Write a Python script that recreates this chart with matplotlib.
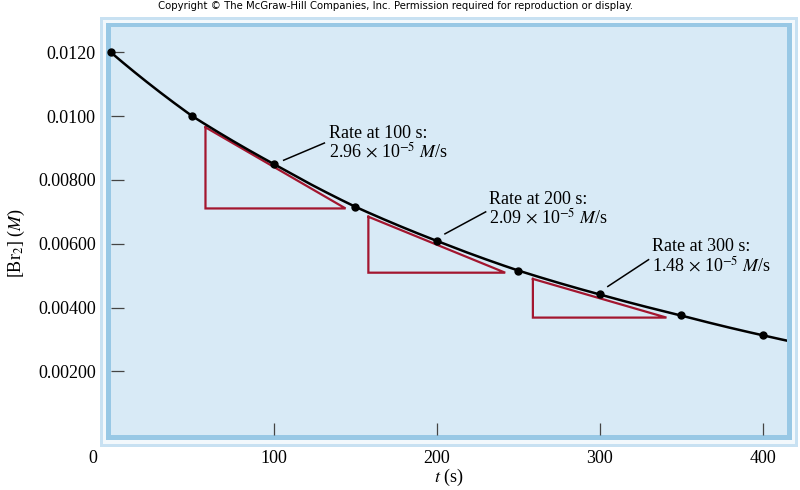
import numpy as np
import matplotlib
matplotlib.use("Agg")
import matplotlib.pyplot as plt
from matplotlib.patches import Rectangle

plt.rcParams['font.family'] = ['Liberation Serif', 'DejaVu Serif']
plt.rcParams['mathtext.fontset'] = 'stix'

# data
t_s = [0, 50, 100, 150, 200, 250, 300, 350, 400]
br2 = [0.0120, 0.0100, 0.0085, 0.00716, 0.00609, 0.00516, 0.00441, 0.00375, 0.00313]
curve_end_t = 415
curve_end_c = 0.00296

# tangent triangles: where the tangent touches, its slope, and its x extent
tan_t = [100, 200, 300]
rates = [2.96e-5, 2.09e-5, 1.48e-5]
tri_t0 = [58, 158, 259]
tri_t1 = [144, 242, 341]
tri_drop = [0.00009, 0.00012, 0.00012]   # triangles sit a hair under the curve

labels = ["Rate at 100 s:\n2.96 $\\times$ 10$^{-5}$ $M$/s",
          "Rate at 200 s:\n2.09 $\\times$ 10$^{-5}$ $M$/s",
          "Rate at 300 s:\n1.48 $\\times$ 10$^{-5}$ $M$/s"]
label_xy = [(134, 0.00916), (232, 0.00709), (332, 0.00559)]
leader_from = [(106, 0.00862), (205, 0.00631), (305, 0.00466)]
leader_to = [(131, 0.00916), (230, 0.00700), (330, 0.00550)]

W, H = 800, 490
fig = plt.figure(figsize=(8, 4.9), dpi=100)

def px_rect(x0, y0, x1, y1, color):
    # pixel box (top-left origin) -> figure fraction
    r = Rectangle((x0 / W, 1 - y1 / H), (x1 - x0) / W, (y1 - y0) / H,
                  transform=fig.transFigure, facecolor=color, edgecolor='none', zorder=-5)
    fig.add_artist(r)

# the light blue frame around the plot
px_rect(100, 17, 798, 447, '#c8e1f2')
px_rect(103, 20, 795, 444, '#f2f8fc')
px_rect(106, 23, 792, 440, '#98c8e5')

ax = fig.add_axes([111 / W, 1 - 435 / H, (787 - 111) / W, (435 - 27) / H])
ax.set_facecolor('#d8eaf6')
for s in ax.spines.values():
    s.set_visible(False)

# smooth curve through the points (log-linear between readings)
ct = np.array(t_s + [curve_end_t])
cc = np.array(br2 + [curve_end_c])
tt = np.linspace(ct[0], ct[-1], 400)
ax.plot(tt, np.exp(np.interp(tt, ct, np.log(cc))), color='black', lw=1.8, zorder=4)
ax.plot(t_s, br2, 'o', color='black', ms=5, zorder=5, clip_on=False)

for i in range(3):
    c0 = np.interp(tan_t[i], t_s, br2) - tri_drop[i]
    top = c0 + rates[i] * (tan_t[i] - tri_t0[i])
    bot = c0 - rates[i] * (tri_t1[i] - tan_t[i])
    ax.plot([tri_t0[i], tri_t0[i], tri_t1[i], tri_t0[i]], [top, bot, bot, top],
            color='#a3162f', lw=1.6, zorder=3, solid_joinstyle='miter')
    ax.plot([leader_from[i][0], leader_to[i][0]], [leader_from[i][1], leader_to[i][1]],
            color='black', lw=1.1, zorder=3)
    ax.text(label_xy[i][0], label_xy[i][1], labels[i], ha='left', va='center',
            fontsize=13, linespacing=1.0, zorder=6)

ax.set_xlim(0, 415)
ax.set_ylim(0, 0.0128)
ax.set_xticks([100, 200, 300, 400])
ax.set_yticks([0.002, 0.004, 0.006, 0.008, 0.010, 0.012])
ax.set_yticklabels(['0.00200', '0.00400', '0.00600', '0.00800', '0.0100', '0.0120'])
ax.tick_params(direction='in', length=9, width=0.9, color='#444444', labelsize=13, pad=11)
ax.annotate('0', xy=(0, 0), xycoords='axes fraction', xytext=(-13, -11),
            textcoords='offset points', ha='center', va='top', fontsize=13)

ax.set_xlabel('$t$ (s)', fontsize=13, labelpad=0)
ax.set_ylabel('[Br$_2$] ($M$)', fontsize=13)
ax.yaxis.set_label_coords(-0.125, 0.47)

fig.text(395 / W, 1 - 6 / H,
         'Copyright \u00a9 The McGraw-Hill Companies, Inc. Permission required for reproduction or display.',
         ha='center', va='center', fontsize=7.3, family=['Liberation Sans Narrow', 'DejaVu Sans'])

fig.savefig('out.png', dpi=100)
